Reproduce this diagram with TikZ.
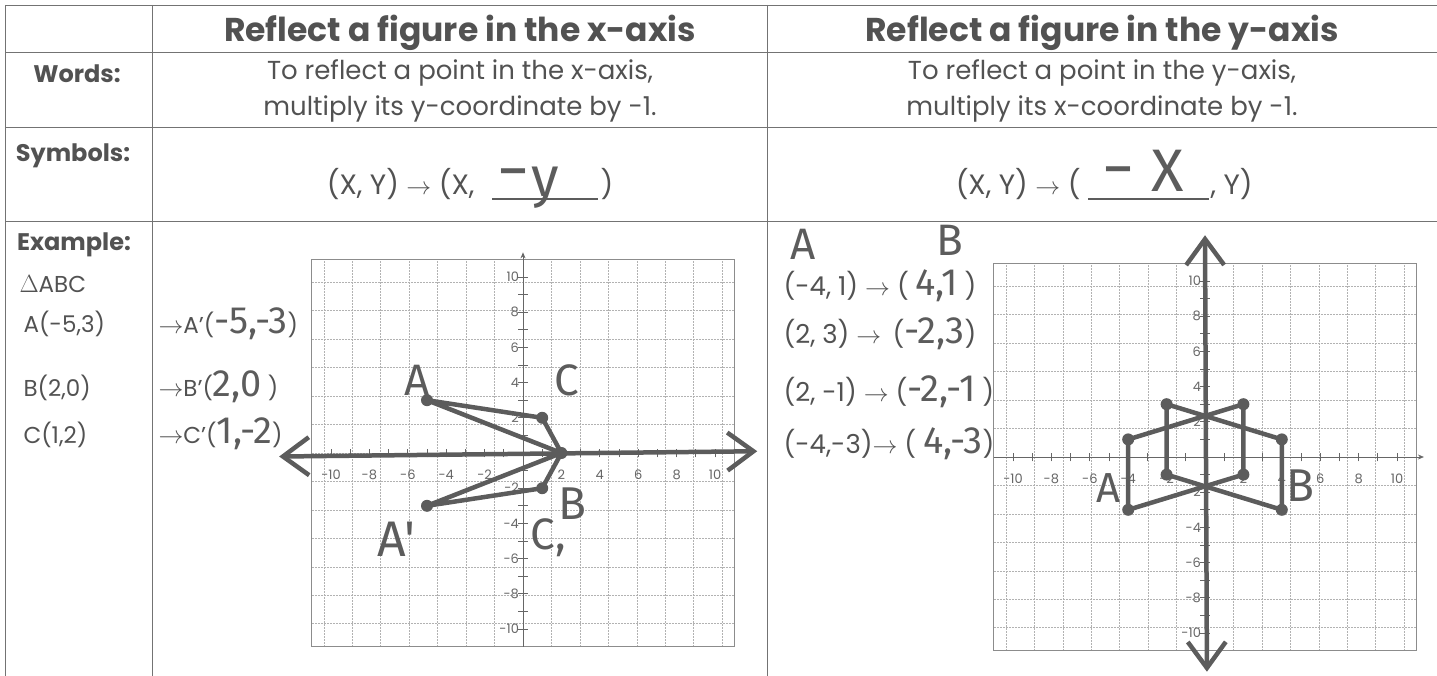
\documentclass[tikz,border=0pt]{standalone}
\usepackage{fontspec}
\setmainfont{Poppins}
\newfontfamily\handfont{Fira Sans}
\usetikzlibrary{arrows.meta}
\colorlet{ink}{black!68}
\colorlet{pen}{black!64}
\tikzset{
 rule/.style={black!55,line width=.8pt},
 gridline/.style={black!30,densely dotted,line width=.5pt},
 frame/.style={black!45,line width=.7pt},
 printaxis/.style={black!60,line width=.7pt},
 handline/.style={pen,line width=4.5pt,line cap=round,line join=round},
 handdot/.style={circle,fill=pen,inner sep=0pt,minimum size=12pt},
 handtext/.style={text=pen,font=\handfont\fontsize{44}{44}\selectfont,inner sep=0pt},
 ticklabel/.style={text=black!60,font=\fontsize{13}{13}\selectfont,inner sep=1pt},
 head/.style={anchor=base,font=\bfseries\fontsize{33}{36}\selectfont},
 rowlabel/.style={anchor=base,font=\bfseries\fontsize{24}{28}\selectfont},
 txt/.style={anchor=base,font=\fontsize{26}{30}\selectfont},
 symtxt/.style={anchor=base,font=\fontsize{28}{30}\selectfont},
 listtxt/.style={anchor=base west,font=\fontsize{23}{26}\selectfont},
 pairtxt/.style={anchor=base west,font=\fontsize{26}{28}\selectfont},
 handtip/.tip={Straight Barb[length=26pt,width=38pt]},
}
\newcommand{\hw}[1]{{\handfont\fontsize{38}{38}\selectfont\color{pen}#1}}
\newcommand{\axesgrid}{%
 \draw[gridline] (-11,-11) grid (11,11);
 \draw[frame] (-11,-11) rectangle (11,11);
 \foreach \i in {-10,...,10}{
  \draw[printaxis] (\i,-.25) -- (\i,.25);
  \draw[printaxis] (-.25,\i) -- (.25,\i);}
 \foreach \i in {-10,-8,...,-2,2,4,...,10}{
  \node[ticklabel] (lx\i) at (\i,-1.25) {\i};
  \node[ticklabel,anchor=east] (ly\i) at (-.15,\i) {\i};}
}
\begin{document}
\begin{tikzpicture}[x=1pt,y=-1pt,every node/.style={text=ink}]
 \useasboundingbox (0,0) rectangle (1437,676);
 \coordinate (tl) at (5,5); \coordinate (tr) at (1437,5);
 \draw[rule] (tl)--(tr);
 \draw[rule] (5,52)--(1437,52);
 \draw[rule] (5,127)--(1437,127);
 \draw[rule] (5,221)--(1437,221);
 \draw[rule] (5,5)--(5,676);
 \draw[rule] (152,5)--(152,676);
 \draw[rule] (767,5)--(767,676);
 \node[head] (titleX) at (460,42) {Reflect a figure in the x-axis};
 \node[head] (titleY) at (1102,42) {Reflect a figure in the y-axis};
 \node[rowlabel] (words) at (77,83) {Words:};
 \node[rowlabel] (symbols) at (73,162) {Symbols:};
 \node[rowlabel] (example) at (74,251) {Example:};
 \node[txt] (wx1) at (460,80) {To reflect a point in the x-axis,};
 \node[txt] (wx2) at (460,116) {multiply its y-coordinate by -1.};
 \node[txt] (wy1) at (1102,80) {To reflect a point in the y-axis,};
 \node[txt] (wy2) at (1102,116) {multiply its x-coordinate by -1.};
 \node[symtxt,anchor=base east] (sx) at (478,195) {(X, Y) $\rightarrow$ (X,};
 \coordinate (ux1) at (492,199); \coordinate (ux2) at (598,199);
 \draw[pen,line width=1.8pt] (ux1)--(ux2);
 \node[handtext,font=\handfont\fontsize{64}{64}\selectfont] (hyd) at (513,181) {−};
 \node[handtext,font=\handfont\fontsize{56}{56}\selectfont,anchor=base] (hy) at (545,197) {y};
 \node[symtxt,anchor=base west] (sxe) at (597,195) {)};
 \node[symtxt,anchor=base east] (sy) at (1084,195) {(X, Y) $\rightarrow$ (};
 \coordinate (uy1) at (1088,199); \coordinate (uy2) at (1209,199);
 \draw[pen,line width=1.8pt] (uy1)--(uy2);
 \node[handtext,font=\handfont\fontsize{64}{64}\selectfont] (hxd) at (1118,179) {−};
 \node[handtext,font=\handfont\fontsize{60}{60}\selectfont,anchor=base] (hx) at (1168,192) {X};
 \node[symtxt,anchor=base west] (sye) at (1207,195) {, Y)};
 \node[listtxt] (abc) at (16,293) {$\Delta$ABC};
 \node[listtxt] (pa) at (20,332) {A(-5,3)};
 \node[listtxt] (pb) at (20,396) {B(2,0)};
 \node[listtxt] (pc) at (20,443) {C(1,2)};
 \node[listtxt] (qa) at (155,333) {$\rightarrow$A'(\hw{-5,-3})};
 \node[listtxt] (qb) at (155,396) {$\rightarrow$B'(\hw{2,0} )};
 \node[listtxt] (qc) at (155,443) {$\rightarrow$C'(\hw{1,-2})};
 \node[handtext] (hA) at (803,244) {A};
 \node[handtext] (hB) at (950,240) {B};
 \node[pairtxt] (r1) at (780,295) {(-4, 1) $\rightarrow$ ( \hw{4,1} )};
 \node[pairtxt] (r2) at (780,343) {(2, 3) $\rightarrow$ \,(\hw{-2,3})};
 \node[pairtxt] (r3) at (780,401) {(2, -1) $\rightarrow$ (\hw{-2,-1} )};
 \node[pairtxt] (r4) at (780,453) {(-4,-3)$\rightarrow$ ( \hw{4,-3})};
 \begin{scope}[shift={(523,453)},x=19.2pt,y=17.6pt]
  \axesgrid
  \draw[printaxis,-{Stealth[length=6pt,width=5pt]}] (0,-11) -- (0,11.4);
  \coordinate (xl) at (-12.7,-.2); \coordinate (xr) at (12.2,.1);
  \draw[handline,handtip-handtip] (xl) -- (xr);
  \coordinate (A) at (-5,3); \coordinate (B) at (2,0); \coordinate (C) at (1,2);
  \coordinate (A1) at (-5,-3); \coordinate (C1) at (1,-2);
  \draw[handline] (A) -- (C) -- (B) -- cycle;
  \draw[handline] (A1) -- (C1) -- (B) -- cycle;
  \foreach \p in {A,B,C,A1,C1} \node[handdot] (d\p) at (\p) {};
  \node[handtext] (lA) at (-5.5,4.1) {A};
  \node[handtext] (lC) at (2.3,4.1) {C};
  \node[handtext,font=\handfont\fontsize{46}{46}\selectfont] (lB) at (2.6,-2.85) {B};
  \node[handtext] (lC1) at (1.3,-4.8) {C,};
  \node[handtext,font=\handfont\fontsize{50}{50}\selectfont] (lA1) at (-6.6,-4.9) {A'};
 \end{scope}
 \begin{scope}[shift={(1205,457)},x=19.2pt,y=17.6pt]
  \axesgrid
  \draw[printaxis,-{Stealth[length=6pt,width=5pt]}] (-11,0) -- (11.4,0);
  \coordinate (yb) at (.1,-12.2); \coordinate (yt) at (0,12.6);
  \draw[handline,handtip-handtip] (yb) -- (yt);
  \coordinate (P) at (-4,1); \coordinate (Q) at (2,3); \coordinate (R) at (2,-1); \coordinate (S) at (-4,-3);
  \coordinate (P1) at (4,1); \coordinate (Q1) at (-2,3); \coordinate (R1) at (-2,-1); \coordinate (S1) at (4,-3);
  \draw[handline] (P) -- (Q) -- (R) -- (S) -- cycle;
  \draw[handline] (P1) -- (Q1) -- (R1) -- (S1) -- cycle;
  \foreach \p in {P,Q,R,S,P1,Q1,R1,S1} \node[handdot] (d\p) at (\p) {};
  \node[handtext,font=\handfont\fontsize{42}{42}\selectfont] (lP) at (-5.0,-1.75) {A};
  \node[handtext,font=\handfont\fontsize{46}{46}\selectfont] (lP1) at (4.95,-1.6) {B};
 \end{scope}
\end{tikzpicture}
\end{document}
